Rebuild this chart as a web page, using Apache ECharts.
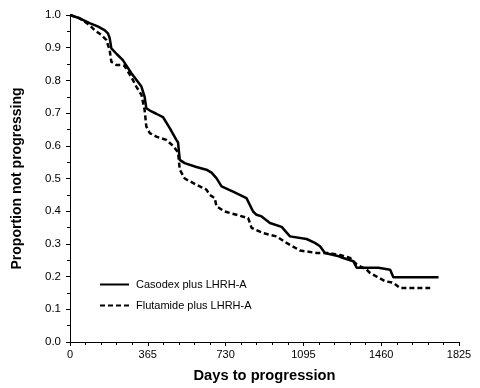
<!DOCTYPE html>
<html>
<head>
<meta charset="utf-8">
<script src="https://cdn.jsdelivr.net/npm/echarts@6/dist/echarts.min.js"></script>
<style>html,body{margin:0;padding:0;background:#fff}#c{width:480px;height:388px}</style>
</head>
<body>
<div id="c"></div>
<script>
const seriesNames = ["Casodex plus LHRH-A", "Flutamide plus LHRH-A"];
const xTickLabels = [0, 365, 730, 1095, 1460, 1825];
const yTickLabels = [0.0, 0.1, 0.2, 0.3, 0.4, 0.5, 0.6, 0.7, 0.8, 0.9, 1.0];

const casodexDays = [0, 45, 92, 130, 162, 178, 186, 194, 220, 248, 288, 335, 350, 358, 382, 405, 436, 468, 499, 507, 515, 538, 593, 640, 664, 687, 711, 765, 828, 859, 875, 899, 938, 993, 1032, 1110, 1149, 1173, 1196, 1251, 1282, 1329, 1345, 1447, 1502, 1517, 1729];
const casodexVals = [1.0, 0.99, 0.975, 0.965, 0.954, 0.944, 0.93, 0.898, 0.88, 0.862, 0.822, 0.781, 0.75, 0.715, 0.705, 0.698, 0.688, 0.654, 0.618, 0.61, 0.557, 0.547, 0.535, 0.527, 0.518, 0.501, 0.476, 0.46, 0.44, 0.399, 0.389, 0.384, 0.364, 0.352, 0.323, 0.315, 0.303, 0.293, 0.272, 0.264, 0.257, 0.247, 0.227, 0.227, 0.221, 0.198, 0.198];

const flutamideDays = [0, 45, 90, 115, 147, 170, 186, 194, 217, 240, 255, 288, 311, 335, 350, 358, 374, 405, 452, 483, 507, 515, 538, 593, 640, 656, 679, 687, 726, 781, 836, 852, 906, 969, 1016, 1079, 1157, 1212, 1267, 1314, 1345, 1392, 1408, 1439, 1478, 1517, 1549, 1690];
const flutamideVals = [1.0, 0.99, 0.97, 0.954, 0.939, 0.924, 0.893, 0.857, 0.847, 0.847, 0.845, 0.81, 0.781, 0.756, 0.71, 0.659, 0.639, 0.628, 0.618, 0.6, 0.58, 0.527, 0.5, 0.481, 0.466, 0.45, 0.44, 0.415, 0.399, 0.389, 0.379, 0.349, 0.333, 0.323, 0.303, 0.28, 0.272, 0.272, 0.266, 0.257, 0.237, 0.221, 0.211, 0.2, 0.186, 0.181, 0.165, 0.165];

const pair = (xs, ys) => xs.map((x, i) => [x, ys[i]]);
const font = '"Liberation Sans", Arial, sans-serif';

const chart = echarts.init(document.getElementById('c'), null, {renderer: 'canvas'});
chart.setOption({
  animation: false,
  backgroundColor: '#fff',
  grid: {left: 70, right: 21, top: 15, bottom: 45.5, containLabel: false},
  legend: {
    orient: 'vertical', left: 94, top: 274,
    itemWidth: 29, itemHeight: 12, itemGap: 10,
    itemStyle: {opacity: 0},
    textStyle: {fontFamily: font, fontSize: 11, color: '#000', padding: [0, 0, 0, 2]},
    data: seriesNames
  },
  xAxis: {
    type: 'value', min: 0, max: 1825, interval: 365,
    name: 'Days to progression', nameLocation: 'middle', nameGap: 26,
    nameTextStyle: {fontFamily: font, fontSize: 14.7, fontWeight: 'bold', color: '#000'},
    axisLine: {show: true, onZero: false, lineStyle: {color: '#000', width: 1}},
    axisTick: {show: true, length: 4, lineStyle: {color: '#000'}},
    minorTick: {show: true, splitNumber: 5, length: 3, lineStyle: {color: '#000'}},
    splitLine: {show: false},
    axisLabel: {fontFamily: font, fontSize: 11, color: '#000', margin: 7,
      formatter: v => xTickLabels.includes(v) ? String(v) : ''}
  },
  yAxis: {
    type: 'value', min: 0, max: 1, interval: 0.1,
    name: 'Proportion not progressing', nameLocation: 'middle', nameGap: 46,
    nameTextStyle: {fontFamily: font, fontSize: 14, fontWeight: 'bold', color: '#000'},
    axisLine: {show: true, lineStyle: {color: '#000', width: 1}},
    axisTick: {show: true, length: 4, lineStyle: {color: '#000'}},
    minorTick: {show: true, splitNumber: 2, length: 3, lineStyle: {color: '#000'}},
    splitLine: {show: false},
    axisLabel: {fontFamily: font, fontSize: 11.5, color: '#000', margin: 9,
      formatter: v => {
        const m = yTickLabels.find(t => Math.abs(t - v) < 1e-6);
        return m === undefined ? '' : m.toFixed(1);
      }}
  },
  series: [
    {
      name: seriesNames[0], type: 'line', symbol: 'none', color: '#000',
      lineStyle: {color: '#000', width: 2.5, type: 'solid'},
      data: pair(casodexDays, casodexVals)
    },
    {
      name: seriesNames[1], type: 'line', symbol: 'none', color: '#000',
      lineStyle: {color: '#000', width: 2.5, type: [5, 3]},
      data: pair(flutamideDays, flutamideVals)
    }
  ]
});
</script>
</body>
</html>
